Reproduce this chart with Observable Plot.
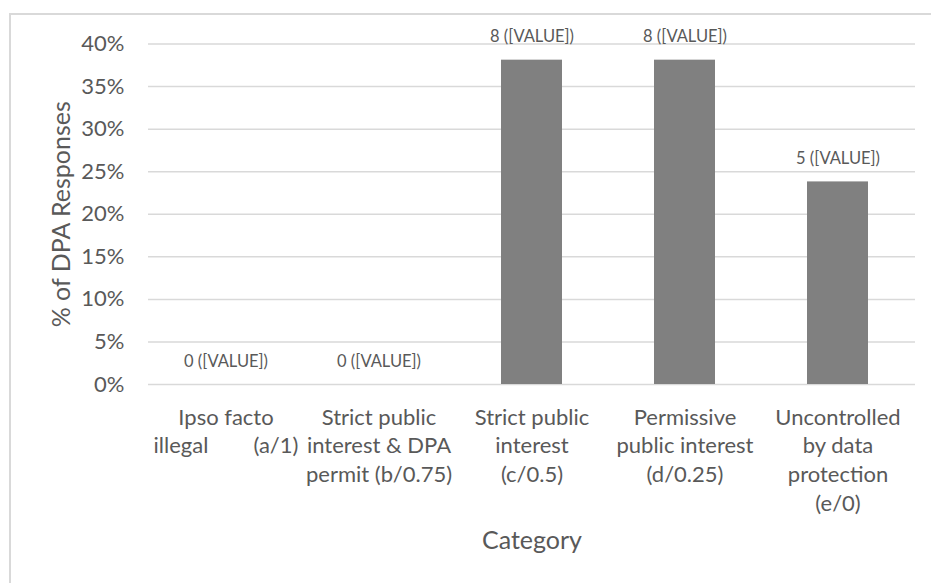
<!DOCTYPE html>
<html>
<head>
<meta charset="utf-8">
<script src="https://cdn.jsdelivr.net/npm/d3@7"></script>
<script src="https://cdn.jsdelivr.net/npm/@observablehq/plot@0.6"></script>
<style>
  html, body { margin: 0; padding: 0; background: #fff; overflow: hidden; }
  #wrap { position: relative; width: 931px; height: 583px; }
  #border { position: absolute; left: 9px; top: 13px; width: 1000px; height: 1000px;
            border: 2px solid #d9d9d9; box-sizing: border-box; pointer-events: none; }
  svg text { white-space: pre; }
</style>
</head>
<body>
<div id="wrap"><div id="border"></div></div>
<script>
const NB = "\u00A0";
const categories = ["a", "b", "c", "d", "e"];
const categoryLabels = [
  "Ipso facto\nillegal" + NB.repeat(8) + "(a/1)",
  "Strict public\ninterest & DPA\npermit (b/0.75)",
  "Strict public\ninterest\n(c/0.5)",
  "Permissive\npublic interest\n(d/0.25)",
  "Uncontrolled\nby data\nprotection\n(e/0)"
];
const counts = [0, 0, 8, 8, 5];
const shares = [0, 0, 0.381, 0.381, 0.238];
const yTicks = [0, 0.05, 0.10, 0.15, 0.20, 0.25, 0.30, 0.35, 0.40];
const yTitle = "% of DPA Responses";
const xTitle = "Category";

const data = categories.map((c, i) => ({cat: c, label: categoryLabels[i], count: counts[i], share: shares[i]}));
const labelOf = new Map(categories.map((c, i) => [c, categoryLabels[i]]));

const font = "Lato, Calibri, 'Open Sans', sans-serif";
const textColor = "#595959";

const chart = Plot.plot({
  width: 931,
  height: 583,
  marginLeft: 148,
  marginRight: 16,
  marginTop: 43.5,
  marginBottom: 199,
  style: {fontFamily: font, color: textColor, background: "transparent"},
  x: {domain: categories, paddingInner: 0.6, paddingOuter: 0.3, label: null},
  y: {domain: [0, 0.4], ticks: yTicks, label: null},
  marks: [
    Plot.gridY(yTicks, {stroke: "#d9d9d9", strokeOpacity: 1, strokeWidth: 1.5}),
    Plot.barY(data, {x: "cat", y: "share", fill: "#808080"}),
    Plot.text(data, {x: "cat", y: "share", text: d => `${d.count} ([VALUE])`, dy: -23,
                     fontSize: 16.5, fill: textColor}),
    Plot.axisY({ticks: yTicks, tickFormat: d3.format(".0%"), tickSize: 0, tickPadding: 24,
                fontSize: 22, label: null, fill: textColor}),
    Plot.axisX({tickFormat: d => labelOf.get(d), tickSize: 0, tickPadding: 20,
                fontSize: 22, lineHeight: 1.3, label: null, fill: textColor}),
    Plot.text([yTitle], {frameAnchor: "left", textAnchor: "middle", rotate: -90, dx: -87,
                         fontSize: 25, fill: textColor}),
    Plot.text([xTitle], {frameAnchor: "bottom", dy: 164, fontSize: 25, fill: textColor})
  ]
});
document.getElementById("wrap").prepend(chart);
</script>
</body>
</html>
